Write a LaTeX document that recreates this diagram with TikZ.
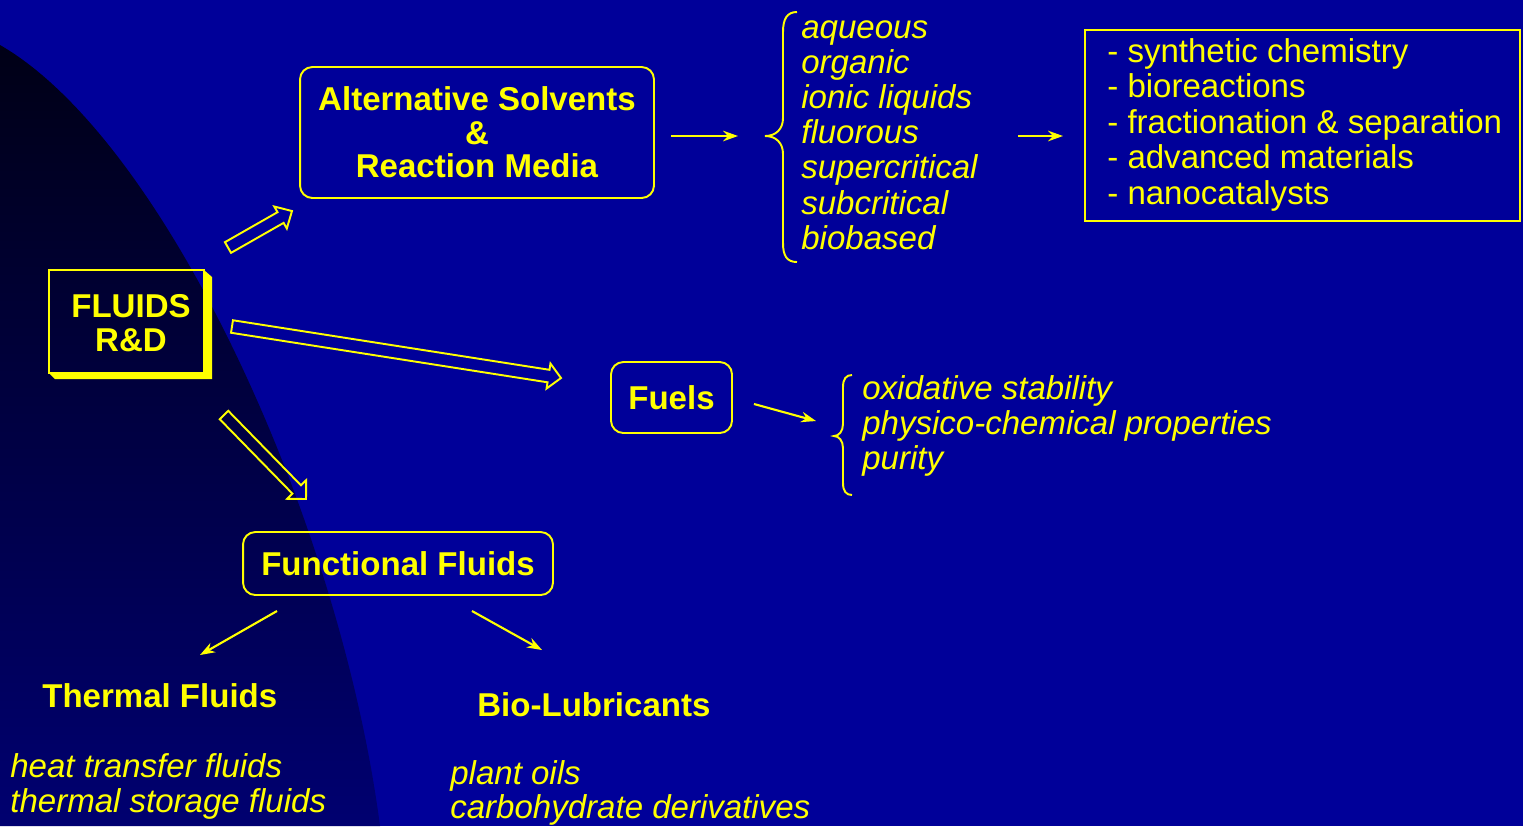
\documentclass[tikz,border=0pt]{standalone}
\usepackage{fontspec}
\setmainfont{Liberation Sans}
\usetikzlibrary{arrows.meta,calc}
\definecolor{bg}{RGB}{0,0,153}
\definecolor{yl}{RGB}{255,255,0}
\definecolor{darktop}{RGB}{0,0,22}
\definecolor{darkbot}{RGB}{0,0,112}
\newcommand{\blockarr}[5]{%
  \coordinate (#2b) at ($(#2)!#5!(#1)$);
  \draw[blockarrow] ($(#1)!#3!90:(#2)$) -- ($(#2b)!#3!-90:(#1)$) -- ($(#2b)!#4!-90:(#1)$)
    -- (#2) -- ($(#2b)!#4!90:(#1)$) -- ($(#2b)!#3!90:(#1)$) -- ($(#1)!#3!-90:(#2)$) -- cycle;}
\begin{document}
\begin{tikzpicture}[x=0.02cm,y=-0.02cm,
  every node/.style={text=yl, inner sep=0pt},
  bold/.style={font=\fontsize{18.8pt}{19pt}\selectfont\bfseries},
  ital/.style={font=\fontsize{18.8pt}{20.2pt}\selectfont\itshape},
  plain/.style={font=\fontsize{18.8pt}{20.2pt}\selectfont},
  rbox/.style={draw=yl, line width=1.1pt, rounded corners=7pt},
  thinarrow/.style={draw=yl, line width=1.2pt, -{Stealth[length=8.5pt,width=6pt]}},
  bracepath/.style={draw=yl, line width=1.1pt},
  blockarrow/.style={draw=yl, line width=1.1pt, line join=miter}]
\fill[bg] (0,0) rectangle (1523,826);
\useasboundingbox (0,0) rectangle (1523,826);
% dark region
\shade[top color=darktop, bottom color=darkbot]
  (0,45) .. controls (165,140) and (340,520) .. (380,826) -- (0,826) -- cycle;

% FLUIDS R&D box with shadow
\fill[yl] (204,270) -- (212,277) -- (212,379) -- (55,379) -- (49,373) -- (204,373) -- cycle;
\node[draw=yl, line width=1.4pt, minimum width=3.1cm, minimum height=2.06cm] (fl) at (126.5,321.5) {};
\node[bold, align=center] (fltext) at (131,323) {FLUIDS\\R\&D};

% Alternative solvents
\node[rbox, bold, align=center, minimum width=7.08cm, minimum height=2.62cm] (alt) at (477,132.5)
  {Alternative Solvents\\\&\\Reaction Media};
% Fuels
\node[rbox, bold, minimum width=2.42cm, minimum height=1.42cm] (fuels) at (671.5,397.5) {Fuels};
% Functional fluids
\node[rbox, bold, minimum width=6.2cm, minimum height=1.26cm] (ff) at (398,563.5) {Functional Fluids};
% Results box
\node[draw=yl, line width=1.3pt, minimum width=8.7cm, minimum height=3.82cm] (res) at (1302.5,125.5) {};

% block arrows
\coordinate (b1t) at (228,247.5); \coordinate (b1h) at (292,211);
\coordinate (b2t) at (232,326.5); \coordinate (b2h) at (561,378);
\coordinate (b3t) at (224,415);   \coordinate (b3h) at (306,499);
\blockarr{b1t}{b1h}{3.5pt}{7.2pt}{7.5pt}
\blockarr{b2t}{b2h}{3.6pt}{7.2pt}{7.2pt}
\blockarr{b3t}{b3h}{3.4pt}{7.6pt}{7.6pt}

% solvents list
\draw[bracepath] (797,12) .. controls (787,12) and (783,19) .. (783,32) -- (783,118)
  .. controls (783,129) and (776,136) .. (765,136) .. controls (776,136) and (783,143) .. (783,154)
  -- (783,243) .. controls (783,256) and (787,262) .. (797,262);
\foreach \t [count=\i] in {aqueous, organic, ionic liquids, fluorous, supercritical, subcritical, biobased}
  \node[ital, anchor=base west] (sol\i) at (801,{38+35.2*(\i-1)}) {\t};

% results list
\foreach \t [count=\i] in {- synthetic chemistry, - bioreactions, - fractionation \& separation, - advanced materials, - nanocatalysts}
  \node[plain, anchor=base west] (r\i) at (1107,{62+35.5*(\i-1)}) {\t};

% fuels list
\draw[bracepath] (852,375) .. controls (846,375) and (843,379) .. (843,387) -- (843,424)
  .. controls (843,431) and (839,436) .. (834,436) .. controls (839,436) and (843,441) .. (843,448)
  -- (843,483) .. controls (843,491) and (846,495) .. (852,495);
\foreach \t [count=\i] in {oxidative stability, physico-chemical properties, purity}
  \node[ital, anchor=base west] (fu\i) at (862,{399+35*(\i-1)}) {\t};

% thin arrows
\coordinate (a1s) at (671,136); \coordinate (a1e) at (738,136);
\coordinate (a2s) at (1018,136); \coordinate (a2e) at (1063,136);
\coordinate (a3s) at (754,404); \coordinate (a3e) at (816,421);
\coordinate (a4s) at (277,611); \coordinate (a4e) at (200,655);
\coordinate (a5s) at (472,611); \coordinate (a5e) at (542,650);
\draw[thinarrow] (a1s) -- (a1e);
\draw[thinarrow] (a2s) -- (a2e);
\draw[thinarrow] (a3s) -- (a3e);
\draw[thinarrow] (a4s) -- (a4e);
\draw[thinarrow] (a5s) -- (a5e);

% bottom texts
\node[bold, anchor=base west] (thf) at (42,707) {Thermal Fluids};
\node[ital, anchor=base west] (th1) at (10,777) {heat transfer fluids};
\node[ital, anchor=base west] (th2) at (10,812) {thermal storage fluids};
\node[bold, anchor=base west] (bio) at (477,716) {Bio-Lubricants};
\node[ital, anchor=base west] (bi1) at (450,784) {plant oils};
\node[ital, anchor=base west] (bi2) at (450,818) {carbohydrate derivatives};
\end{tikzpicture}
\end{document}
